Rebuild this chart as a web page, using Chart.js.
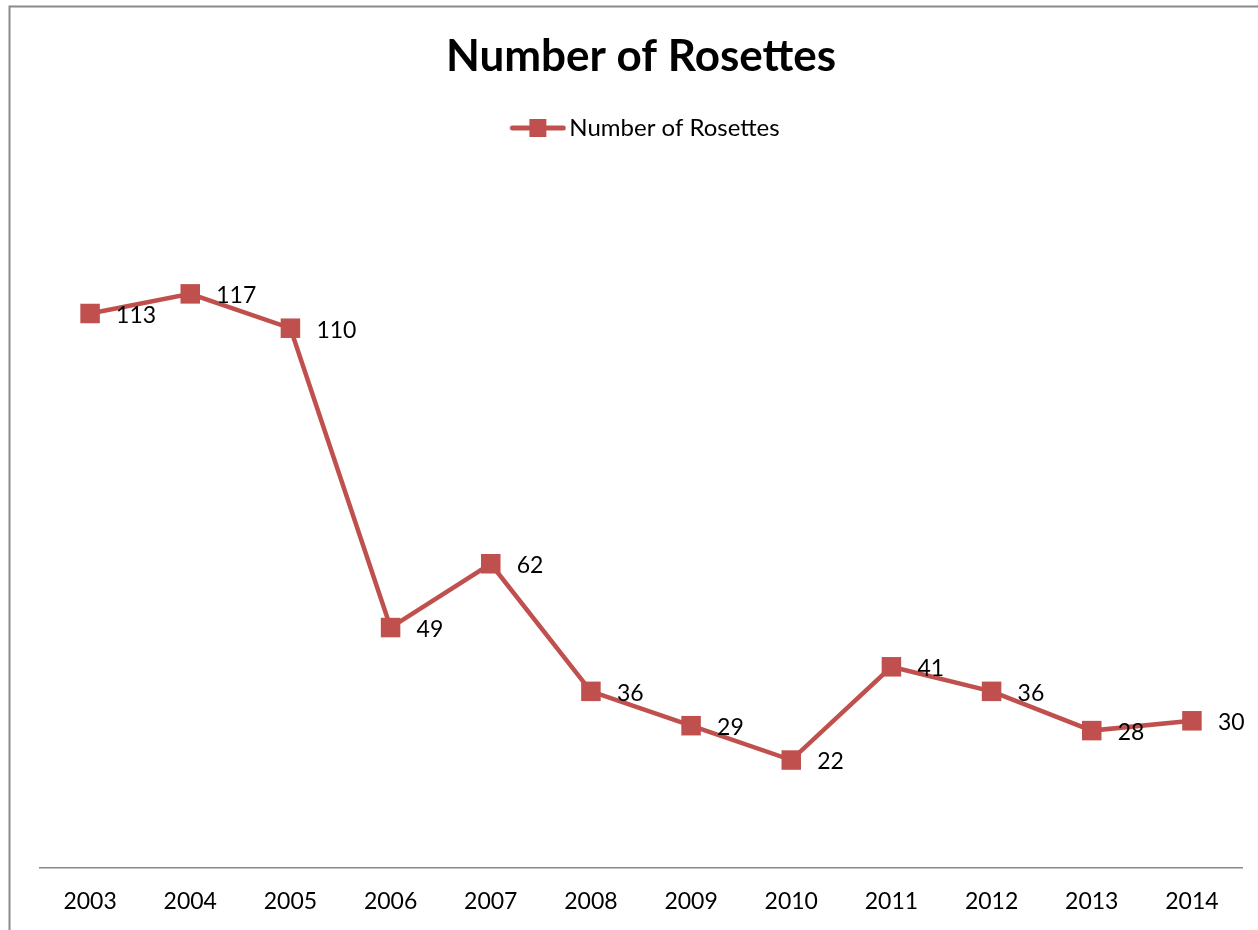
<!DOCTYPE html>
<html>
<head>
<meta charset="utf-8">
<title>Number of Rosettes</title>
<script src="https://cdn.jsdelivr.net/npm/chart.js@4.4.1/dist/chart.umd.min.js"></script>
<style>
  html, body { margin: 0; padding: 0; background: #ffffff; }
  #wrap { width: 1258px; height: 930px; }
</style>
</head>
<body>
<div id="wrap"><canvas id="chart" width="1258" height="930"></canvas></div>
<script>
// Yearly counts
const years = ['2003', '2004', '2005', '2006', '2007', '2008', '2009', '2010', '2011', '2012', '2013', '2014'];
const rosettes = [113, 117, 110, 49, 62, 36, 29, 22, 41, 36, 28, 30];
const seriesName = 'Number of Rosettes';
const chartTitle = 'Number of Rosettes';

const RED = '#C0504D';
const FONT = 'Lato, "Open Sans", "DejaVu Sans", sans-serif';

// Legend symbol: a short line with a square marker, drawn at the right of a wider transparent canvas
function legendSymbol() {
  const c = document.createElement('canvas');
  c.width = 73; c.height = 20;
  const g = c.getContext('2d');
  const x0 = 16;
  g.strokeStyle = RED;
  g.lineWidth = 5;
  g.lineCap = 'round';
  g.beginPath();
  g.moveTo(x0 + 3, 10);
  g.lineTo(x0 + 54, 10);
  g.stroke();
  g.fillStyle = RED;
  g.fillRect(x0 + 20, 1, 17, 18);
  return c;
}

// Thin grey frame along the top and left edges of the chart
const framePlugin = {
  id: 'frame',
  beforeDraw(chart) {
    const ctx = chart.ctx;
    ctx.save();
    ctx.strokeStyle = '#8a8a8a';
    ctx.lineWidth = 2;
    ctx.beginPath();
    ctx.moveTo(9.5, chart.height);
    ctx.lineTo(9.5, 6.5);
    ctx.lineTo(chart.width, 6.5);
    ctx.stroke();
    ctx.restore();
  }
};

// Value labels placed to the right of each marker
const valueLabels = {
  id: 'valueLabels',
  afterDatasetsDraw(chart) {
    const ctx = chart.ctx;
    ctx.save();
    ctx.font = '23px ' + FONT;
    ctx.fillStyle = '#000000';
    ctx.textAlign = 'left';
    ctx.textBaseline = 'middle';
    chart.data.datasets.forEach((ds, di) => {
      const meta = chart.getDatasetMeta(di);
      meta.data.forEach((pt, i) => {
        ctx.fillText(String(ds.data[i]), pt.x + 26, pt.y + 2);
      });
    });
    ctx.restore();
  }
};

new Chart(document.getElementById('chart'), {
  type: 'line',
  data: {
    labels: years,
    datasets: [{
      label: seriesName,
      data: rosettes,
      borderColor: RED,
      backgroundColor: RED,
      borderWidth: 4.5,
      tension: 0,
      pointStyle: 'rect',
      pointRadius: 13.8,
      pointBorderWidth: 0,
      pointBackgroundColor: RED,
      clip: false
    }]
  },
  options: {
    responsive: false,
    animation: false,
    layout: { padding: { left: 40, right: 16, top: 0, bottom: 0 } },
    plugins: {
      title: {
        display: true,
        text: chartTitle,
        color: '#000000',
        font: { family: FONT, size: 44, weight: 'bold', lineHeight: 1 },
        padding: { top: 35, bottom: 0 }
      },
      legend: {
        display: true,
        position: 'top',
        labels: {
          usePointStyle: true,
          pointStyle: legendSymbol(),
          pointStyleWidth: 55,
          color: '#000000',
          font: { family: FONT, size: 24 },
          padding: 37
        }
      },
      tooltip: { enabled: false }
    },
    scales: {
      x: {
        offset: true,
        grid: { display: false, drawTicks: false },
        border: { display: true, color: '#8a8a8a', width: 1.5 },
        ticks: {
          color: '#000000',
          font: { family: FONT, size: 23, lineHeight: 1.2 },
          padding: 20,
          maxRotation: 0
        },
        afterFit(scale) { scale.height = 62; }
      },
      // empty band between the legend and the plot
      gap: {
        type: 'category',
        position: 'top',
        offset: true,
        grid: { display: false, drawTicks: false },
        border: { display: false },
        ticks: { display: false },
        afterFit(scale) { scale.height = 31; }
      },
      y: {
        display: false,
        min: 0,
        max: 140
      }
    }
  },
  plugins: [framePlugin, valueLabels]
});
</script>
</body>
</html>
